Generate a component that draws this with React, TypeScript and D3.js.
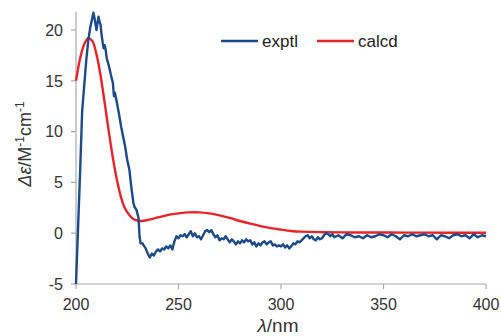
import React from 'react'
import * as d3 from 'd3'

// exptl CD spectrum [lambda nm, delta epsilon]
const exptl: [number, number][] = [
  [200, -5], [201, 0.5], [202, 6], [203, 12], [204, 14.5], [205, 17], [206, 19], [207, 20.3],
  [208, 21.2], [208.5, 21.7], [209, 21.2], [209.5, 20.6], [210, 20], [210.5, 20.7], [211, 21.3],
  [211.5, 20.8], [212, 20.5], [212.5, 19.5], [213, 18.8], [213.5, 18.2], [214, 18.5], [214.5, 18],
  [215, 17.2], [216, 16.5], [217, 15.6], [218, 14.8], [218.5, 13.5], [219, 13.8], [220, 12.8],
  [221, 11.7], [222, 10.5], [223, 9.5], [224, 8.5], [225, 7.2], [226, 6.3], [227, 4.5], [228, 3],
  [228.5, 2.6], [229.5, 2.3], [230.5, 1.5], [231, -0.3], [231.5, -1], [232.5, -1], [233, -1.2],
  [234, -1.5], [235, -2], [236, -2.4], [237, -2], [238, -2.2], [239, -1.8], [240, -1.6], [241, -1.8],
  [242, -1.5], [243, -1.6], [244, -1.3], [245, -1.5], [246, -1.2], [247, -1.6], [248, -0.8],
  [249, -0.3], [250, -0.5], [251, -0.2], [252, -0.3], [253, -0.1], [254, -0.4], [255, -0.1],
  [256, 0.2], [257, -0.3], [258, 0], [259, -0.4], [260, -0.3], [261, -0.6], [262, -0.2], [263, 0.2],
  [264, 0.3], [265, 0.1], [266, 0.3], [267, -0.1], [268, -0.4], [269, -0.2], [270, -0.7], [271, -0.5],
  [272, -0.6], [273, -0.3], [274, -0.6], [275, -0.9], [276, -0.6], [277, -0.8], [278, -1.1],
  [279, -0.8], [280, -1], [281, -0.7], [282, -0.9], [283, -0.6], [284, -0.8], [285, -0.7],
  [286, -1.1], [287, -0.9], [288, -1.3], [289, -1], [290, -1.2], [291, -0.9], [292, -0.8],
  [293, -1.1], [294, -0.9], [295, -0.8], [296, -1.2], [297, -1.1], [298, -1.3], [299, -1.2],
  [300, -1.3], [301, -1.1], [302, -1.4], [303, -1.2], [304, -1.5], [305, -1.3], [306, -1],
  [307, -1.1], [308, -0.8], [309, -0.9], [310, -0.7], [311, -0.5], [312, -0.3], [313, -0.2],
  [314, -0.5], [315, -0.3], [316, -0.6], [317, -0.7], [318, -0.4], [319, -0.6], [320, -0.5],
  [321, -0.2], [322, 0], [323, -0.1], [324, -0.3], [325, -0.1], [326, -0.4], [328, -0.2],
  [330, -0.5], [332, -0.1], [334, -0.2], [336, -0.4], [338, -0.3], [340, -0.5], [342, -0.2],
  [344, -0.4], [346, -0.3], [348, -0.1], [350, -0.2], [352, -0.4], [354, -0.1], [356, -0.3],
  [358, -0.6], [360, -0.2], [362, -0.3], [364, -0.1], [366, -0.3], [368, -0.2], [370, -0.1],
  [372, -0.3], [374, -0.2], [376, -0.6], [378, -0.2], [380, -0.3], [382, -0.5], [384, -0.2],
  [386, -0.1], [388, -0.3], [390, -0.2], [392, -0.5], [394, -0.1], [396, -0.4], [398, -0.2],
  [400, -0.3],
]

// calcd spectrum
const calcd: [number, number][] = [
  [200, 15], [202, 17.2], [204, 18.6], [206, 19.2], [208, 18.9], [210, 17.6], [212, 15.5],
  [214, 12.8], [216, 10], [218, 7.4], [220, 5.2], [222, 3.5], [224, 2.4], [226, 1.8], [228, 1.4],
  [230, 1.25], [232, 1.2], [235, 1.3], [240, 1.55], [245, 1.8], [250, 1.95], [255, 2.05],
  [260, 2.05], [265, 1.95], [270, 1.75], [275, 1.5], [280, 1.2], [285, 0.95], [290, 0.7],
  [295, 0.5], [300, 0.35], [305, 0.22], [310, 0.15], [320, 0.1], [330, 0.08], [340, 0.07],
  [360, 0.06], [380, 0.05], [400, 0.05],
]

const xTicks = [200, 250, 300, 350, 400]
const yTicks = [-5, 0, 5, 10, 15, 20]

const W = 501
const H = 336
const font = '"Liberation Sans", Arial, sans-serif'
const blue = '#1c4a8a'
const red = '#e8232a'

export default function App() {
  const x = d3.scaleLinear().domain([200, 400]).range([76, 486])
  const y = d3.scaleLinear().domain([-5, 20]).range([284, 30])
  const yTop = y(21.8)

  const line = d3.line<[number, number]>().x(d => x(d[0])).y(d => y(d[1]))
  const smooth = d3.line<[number, number]>().x(d => x(d[0])).y(d => y(d[1])).curve(d3.curveCatmullRom)

  return (
    <div style={{ position: 'fixed', left: 0, top: 0 }}>
      <svg width={W} height={H} style={{ display: 'block', background: '#fff' }} fontFamily={font}>
        {/* axes */}
        <line x1={x(200)} x2={x(200)} y1={yTop} y2={y(-5)} stroke="#aaa" strokeWidth={1.2} />
        <line x1={x(200)} x2={x(400)} y1={y(-5)} y2={y(-5)} stroke="#aaa" strokeWidth={1.2} />
        {yTicks.map(t => (
          <g key={t}>
            <line x1={x(200) - 5} x2={x(200)} y1={y(t)} y2={y(t)} stroke="#aaa" strokeWidth={1.2} />
            <text x={63} y={y(t)} dy="0.36em" textAnchor="end" fontSize={16} fill="#333">{t}</text>
          </g>
        ))}
        {xTicks.map(t => (
          <g key={t}>
            <line x1={x(t)} x2={x(t)} y1={y(-5)} y2={y(-5) + 5} stroke="#aaa" strokeWidth={1.2} />
            <text x={x(t)} y={310} textAnchor="middle" fontSize={16} fill="#333">{t}</text>
          </g>
        ))}

        {/* series */}
        <path d={smooth(calcd) ?? ''} fill="none" stroke={red} strokeWidth={2.4} />
        <path d={line(exptl) ?? ''} fill="none" stroke={blue} strokeWidth={2.4} strokeLinejoin="round" />

        {/* axis titles */}
        <text transform="translate(31,144) rotate(-90)" textAnchor="middle" fontSize={18} fill="#333">
          <tspan fontStyle="italic">Δε</tspan>/M<tspan dy={-7} fontSize={12}>-1</tspan>
          <tspan dy={7}>cm</tspan><tspan dy={-7} fontSize={12}>-1</tspan>
        </text>
        <text x={278} y={332} textAnchor="middle" fontSize={19} fill="#333">
          <tspan fontStyle="italic">λ</tspan>/nm
        </text>

        {/* legend */}
        <line x1={221} x2={258} y1={41} y2={41} stroke={blue} strokeWidth={2.4} />
        <text x={262} y={41} dy="0.36em" fontSize={17} fill="#222">exptl</text>
        <line x1={317} x2={354} y1={41} y2={41} stroke={red} strokeWidth={2.4} />
        <text x={358} y={41} dy="0.36em" fontSize={17} fill="#222">calcd</text>
      </svg>
    </div>
  )
}
